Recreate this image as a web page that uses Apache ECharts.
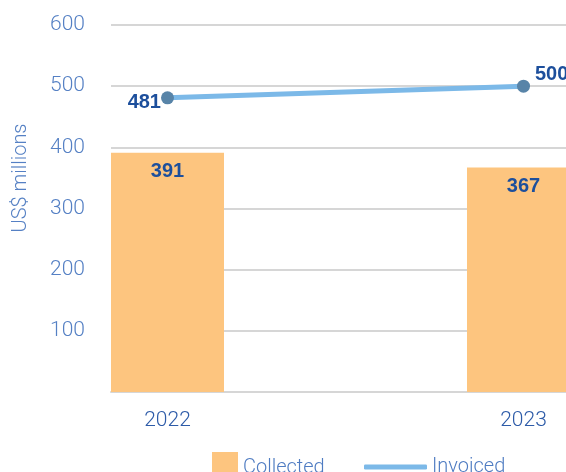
<!DOCTYPE html>
<html>
<head>
<meta charset="utf-8">
<script src="https://cdn.jsdelivr.net/npm/echarts@6/dist/echarts.min.js"></script>
<style>
  html, body { margin: 0; padding: 0; background: #ffffff; }
  #chart { width: 566px; height: 472px; }
</style>
</head>
<body>
<div id="chart"></div>
<script>
// Fee revenue, in US$ millions
const years = [2022, 2023];
const collected = [391, 367];
const invoiced = [481, 500];
const yTicks = [100, 200, 300, 400, 500, 600];

const LIGHT_FONT = 'Roboto, "Liberation Sans", sans-serif';
const BOLD_FONT = '"Liberation Sans", Arial, sans-serif';

const chart = echarts.init(document.getElementById('chart'), null, { renderer: 'canvas' });

chart.setOption({
  animation: false,
  backgroundColor: '#ffffff',
  grid: { left: 111, top: 25, bottom: 80, right: 0, containLabel: false },
  xAxis: {
    type: 'value',
    min: 2021.8413,
    max: 2023.1194,
    axisLine: { show: true, lineStyle: { color: '#d6d6d6', width: 2 } },
    axisTick: { show: false },
    splitLine: { show: false },
    axisLabel: {
      customValues: years,
      margin: 18,
      color: '#2d5ba8',
      fontFamily: LIGHT_FONT,
      fontWeight: 300,
      fontSize: 21,
      formatter: v => String(Math.round(v))
    }
  },
  yAxis: {
    type: 'value',
    min: 0,
    max: 600,
    interval: 100,
    axisLine: { show: false },
    axisTick: { show: false },
    splitLine: { show: true, lineStyle: { color: '#d6d6d6', width: 2 } },
    axisLabel: {
      showMinLabel: false,
      align: 'left',
      margin: 61,
      color: '#5580c4',
      fontFamily: LIGHT_FONT,
      fontWeight: 300,
      fontSize: 21,
      formatter: v => (yTicks.indexOf(v) >= 0 ? String(v) : '')
    }
  },
  legend: [
    {
      data: ['Collected'],
      left: 212,
      top: 452,
      padding: 0,
      itemWidth: 26,
      itemHeight: 32,
      icon: 'rect',
      textStyle: { color: '#4f7cc2', fontFamily: LIGHT_FONT, fontWeight: 300, fontSize: 20 }
    },
    {
      data: ['Invoiced'],
      left: 364,
      top: 457,
      padding: 0,
      itemWidth: 63,
      itemHeight: 5,
      icon: 'roundRect',
      itemStyle: { color: '#7cb9e8' },
      textStyle: { color: '#4f7cc2', fontFamily: LIGHT_FONT, fontWeight: 300, fontSize: 20 }
    }
  ],
  graphic: [
    {
      type: 'text',
      x: 20.5,
      y: 178,
      rotation: Math.PI / 2,
      style: {
        text: 'US$ millions',
        fill: '#5580c4',
        font: '300 20px ' + LIGHT_FONT,
        align: 'center',
        verticalAlign: 'middle'
      }
    }
  ],
  series: [
    {
      name: 'Collected',
      type: 'bar',
      barWidth: 113,
      data: years.map((y, i) => [y, collected[i]]),
      itemStyle: { color: '#fdc57f' },
      label: {
        show: true,
        position: 'insideTop',
        distance: 9,
        color: '#1d4f9c',
        fontFamily: BOLD_FONT,
        fontWeight: 'bold',
        fontSize: 20,
        formatter: p => String(p.value[1])
      },
      z: 2
    },
    {
      name: 'Invoiced',
      type: 'line',
      data: years.map((y, i) => {
        const item = { value: [y, invoiced[i]] };
        item.label = i === 0
          ? { position: 'left', distance: 0, offset: [0, 5] }
          : { position: 'right', distance: 5, offset: [0, -12] };
        return item;
      }),
      symbol: 'circle',
      symbolSize: 13,
      lineStyle: { color: '#7cb9e8', width: 5 },
      itemStyle: { color: '#5884a8' },
      label: {
        show: true,
        color: '#1d4f9c',
        fontFamily: BOLD_FONT,
        fontWeight: 'bold',
        fontSize: 20,
        formatter: p => String(p.value[1])
      },
      z: 3
    }
  ]
});
</script>
</body>
</html>
